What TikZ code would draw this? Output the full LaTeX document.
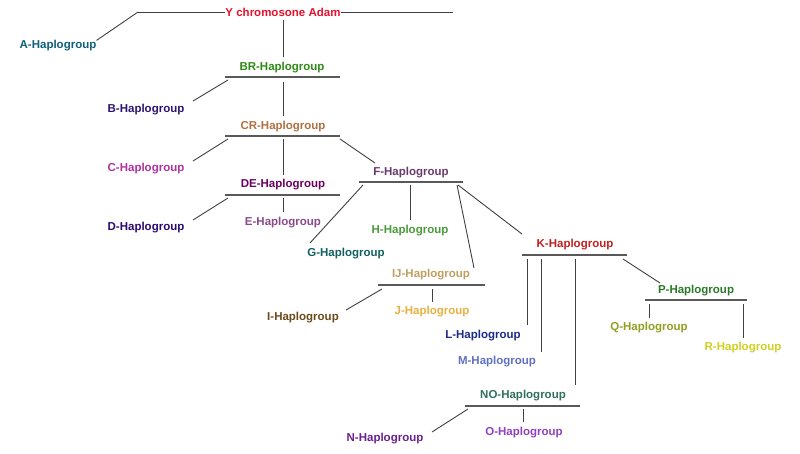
\documentclass[tikz,border=0pt]{standalone}
\usepackage{fontspec}
\setmainfont{Liberation Sans}
\begin{document}
\begin{tikzpicture}[x=1pt,y=-1pt,
 t/.style={inner sep=0pt,font=\fontsize{11.5}{13}\selectfont\bfseries},
 ln/.style={draw=black!75,line width=0.9pt},
 ul/.style={draw=black!65,line width=1.6pt}]
\useasboundingbox (0,0) rectangle (800,454);
\definecolor{cY}{HTML}{E8112D}\definecolor{cA}{HTML}{0D5F7A}\definecolor{cBR}{HTML}{2E8B17}
\definecolor{cB}{HTML}{2E1470}\definecolor{cCR}{HTML}{B07040}\definecolor{cC}{HTML}{B030A0}
\definecolor{cDE}{HTML}{6B0060}\definecolor{cD}{HTML}{2A0A70}\definecolor{cE}{HTML}{8A4A8A}
\definecolor{cF}{HTML}{6A3A6A}\definecolor{cG}{HTML}{125F5F}\definecolor{cH}{HTML}{4A9A3A}
\definecolor{cIJ}{HTML}{C0A060}\definecolor{cI}{HTML}{6B4A1A}\definecolor{cJ}{HTML}{E8B040}
\definecolor{cK}{HTML}{C02020}\definecolor{cL}{HTML}{1A2A8A}\definecolor{cM}{HTML}{6070C0}
\definecolor{cP}{HTML}{2A7A2A}\definecolor{cQ}{HTML}{90A020}\definecolor{cR}{HTML}{D0D020}
\definecolor{cNO}{HTML}{307060}\definecolor{cN}{HTML}{6A2090}\definecolor{cO}{HTML}{9040C0}
\node[t,text=cY] (Y) at (283,12) {Y chromosone Adam};
\node[t,text=cA] (A) at (58,46) {A-Haplogroup};
\node[t,text=cBR] (BR) at (282,68) {BR-Haplogroup};
\node[t,text=cB] (B) at (146,110) {B-Haplogroup};
\node[t,text=cCR] (CR) at (283,127) {CR-Haplogroup};
\node[t,text=cC] (C) at (146,169) {C-Haplogroup};
\node[t,text=cDE] (DE) at (283,185) {DE-Haplogroup};
\node[t,text=cD] (D) at (146,228) {D-Haplogroup};
\node[t,text=cE] (E) at (283,223) {E-Haplogroup};
\node[t,text=cF] (F) at (411,173) {F-Haplogroup};
\node[t,text=cG] (G) at (346,254) {G-Haplogroup};
\node[t,text=cH] (H) at (410,231) {H-Haplogroup};
\node[t,text=cIJ] (IJ) at (431,275) {IJ-Haplogroup};
\node[t,text=cI] (I) at (303,318) {I-Haplogroup};
\node[t,text=cJ] (J) at (432,312) {J-Haplogroup};
\node[t,text=cK] (K) at (575,245) {K-Haplogroup};
\node[t,text=cL] (L) at (483,336) {L-Haplogroup};
\node[t,text=cM] (M) at (497,362) {M-Haplogroup};
\node[t,text=cP] (P) at (696,291) {P-Haplogroup};
\node[t,text=cQ] (Q) at (649,328) {Q-Haplogroup};
\node[t,text=cR] (R) at (743,348) {R-Haplogroup};
\node[t,text=cNO] (NO) at (523,396) {NO-Haplogroup};
\node[t,text=cN] (N) at (385,439) {N-Haplogroup};
\node[t,text=cO] (O) at (524,433) {O-Haplogroup};
% underlines
\coordinate (c1) at (138,12); \coordinate (c2) at (453,12);
\draw[ln] (c1) -- (Y.west); \draw[ln] (Y.east) -- (c2);
\draw[ln] (c1) -- (A.north east);
\foreach \n/\a/\b/\yy in {BR/225/340/77,CR/225/340/136,DE/225/340/195,F/359/463/182,IJ/378/485/285,K/522/627/255,P/645/747/300,NO/465/580/406}{
 \draw[ul] (\a,\yy) -- (\b,\yy);}
\draw[ln] (283,20) -- (283,57);
\draw[ln] (228,80) -- (193,101);
\draw[ln] (283,82) -- (283,116);
\draw[ln] (228,139) -- (193,161);
\draw[ln] (283,139) -- (283,175);
\draw[ln] (340,139) -- (375,163);
\draw[ln] (228,198) -- (193,220);
\draw[ln] (283,198) -- (283,212);
\draw[ln] (363,185) -- (310,243);
\draw[ln] (410,185) -- (410,220);
\draw[ln] (457,185) -- (474,268);
\draw[ln] (458,185) -- (522,234);
\draw[ln] (382,289) -- (346,310);
\draw[ln] (432,289) -- (432,302);
\draw[ln] (527,259) -- (527,325);
\draw[ln] (541,259) -- (541,352);
\draw[ln] (575,259) -- (575,385);
\draw[ln] (623,259) -- (660,283);
\draw[ln] (649,304) -- (649,318);
\draw[ln] (743,304) -- (743,338);
\draw[ln] (468,409) -- (432,432);
\draw[ln] (523,409) -- (523,422);
\end{tikzpicture}
\end{document}
